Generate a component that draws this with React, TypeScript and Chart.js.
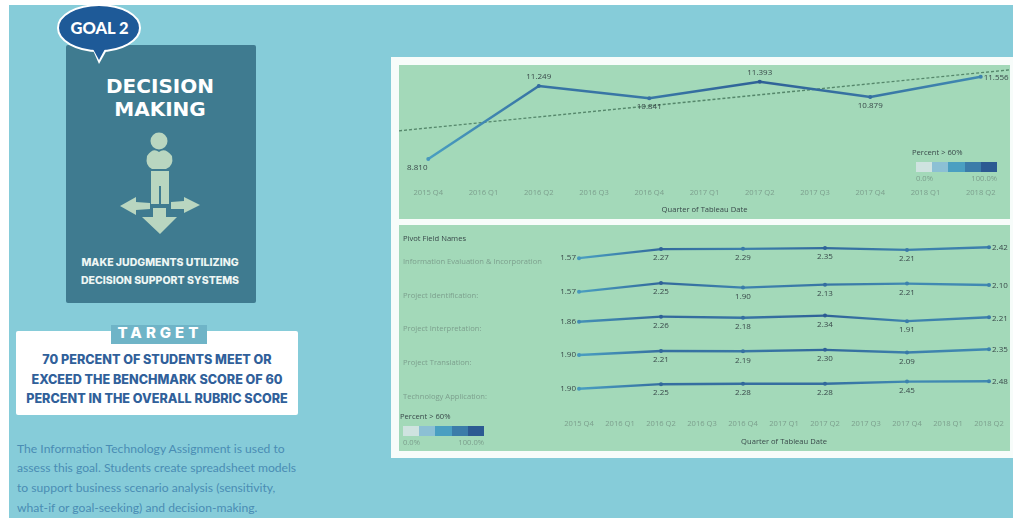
import React, { useEffect, useRef } from "react";
import { Chart, registerables } from "chart.js";

Chart.register(...registerables);

// Quarter axis shared by both charts
const quarters = [
  "2015 Q4", "2016 Q1", "2016 Q2", "2016 Q3", "2016 Q4", "2017 Q1",
  "2017 Q2", "2017 Q3", "2017 Q4", "2018 Q1", "2018 Q2",
];
const observedQuarters = ["2015 Q4", "2016 Q2", "2016 Q4", "2017 Q2", "2017 Q4", "2018 Q2"];

// Overall score
const overallScores = [8.81, 11.249, 10.841, 11.393, 10.879, 11.556];
const overallPercent = [0.5, 0.82, 0.78, 0.95, 0.8, 0.66];
const overallPlacement = ["belowLeft", "above", "below", "above", "below", "right"];
const overallTrendEnds = [9.75, 11.79];

// Rubric criteria
const criteria = [
  "Information Evaluation & Incorporation",
  "Project Identification:",
  "Project Interpretation:",
  "Project Translation:",
  "Technology Application:",
];
const infoEvaluation = [1.57, 2.27, 2.29, 2.35, 2.21, 2.42];
const projectIdentification = [1.57, 2.25, 1.9, 2.13, 2.21, 2.1];
const projectInterpretation = [1.86, 2.26, 2.18, 2.34, 1.91, 2.21];
const projectTranslation = [1.9, 2.21, 2.19, 2.3, 2.09, 2.35];
const technologyApplication = [1.9, 2.25, 2.28, 2.28, 2.45, 2.48];
const criteriaScores = [
  infoEvaluation, projectIdentification, projectInterpretation, projectTranslation, technologyApplication,
];
const infoPercent = [0.5, 0.88, 0.72, 0.88, 0.72, 0.72];
const identificationPercent = [0.5, 0.9, 0.7, 0.8, 0.66, 0.66];
const interpretationPercent = [0.6, 0.9, 0.8, 0.95, 0.7, 0.72];
const translationPercent = [0.5, 0.85, 0.78, 0.9, 0.72, 0.66];
const technologyPercent = [0.5, 0.85, 0.85, 0.85, 0.66, 0.66];
const criteriaPercent = [
  infoPercent, identificationPercent, interpretationPercent, translationPercent, technologyPercent,
];
const criteriaPlacement = ["left", "below", "below", "below", "below", "right"];

const legendRamp = ["#cfe3e0", "#8cc0d4", "#4a9fc1", "#3b7ca9", "#2c5a92"];

const hexToRgb = (hex: string) => [1, 3, 5].map((i) => parseInt(hex.slice(i, i + 2), 16));

// Continuous colour for a share of students above the benchmark
function rampColor(share: number) {
  const pos = Math.min(0.9999, Math.max(0, share)) * (legendRamp.length - 1);
  const i = Math.floor(pos);
  const a = hexToRgb(legendRamp[i]);
  const b = hexToRgb(legendRamp[i + 1]);
  const c = a.map((v, k) => Math.round(v + (b[k] - v) * (pos - i)));
  return `rgb(${c[0]},${c[1]},${c[2]})`;
}

const TICK_COLOR = "#7c9f8d";
const LABEL_COLOR = "#39494a";
const CHART_FONT = "'Open Sans', sans-serif";
const AXIS_FONT_SIZE = 7.6;

// Writes each point's value beside it, using the dataset's placement list
const valueLabels = {
  id: "valueLabels",
  afterDatasetsDraw(chart: any) {
    const { ctx } = chart;
    ctx.save();
    ctx.font = `8px ${CHART_FONT}`;
    ctx.fillStyle = LABEL_COLOR;
    ctx.textBaseline = "middle";
    chart.data.datasets.forEach((ds: any, di: number) => {
      if (!ds.placement) return;
      chart.getDatasetMeta(di).data.forEach((pt: any, i: number) => {
        const where = ds.placement[i];
        const text = ds.data[i].y.toFixed(ds.decimals);
        let x = pt.x;
        let y = pt.y;
        ctx.textAlign = "center";
        if (where === "above") y -= 9;
        if (where === "below") y += 9;
        if (where === "belowLeft") {
          x -= 11;
          y += 9;
        }
        if (where === "left") {
          x -= 3;
          ctx.textAlign = "right";
        }
        if (where === "right") {
          x += 3;
          y += 1;
          ctx.textAlign = "left";
        }
        ctx.fillText(text, x, y);
      });
    });
    ctx.restore();
  },
};

function scoreDataset(values: number[], shares: number[], extra: object) {
  return {
    data: values.map((y, i) => ({ x: quarters.indexOf(observedQuarters[i]), y })),
    borderWidth: 2.4,
    pointRadius: 2,
    pointBorderWidth: 0,
    pointBackgroundColor: shares.map((s) => rampColor(s + 0.05)),
    borderCapStyle: "round",
    tension: 0,
    clip: false,
    segment: {
      borderColor: (c: any) => {
        const g = c.chart.ctx.createLinearGradient(c.p0.x, c.p0.y, c.p1.x, c.p1.y);
        g.addColorStop(0, rampColor(shares[c.p0DataIndex]));
        g.addColorStop(1, rampColor(shares[c.p1DataIndex]));
        return g;
      },
    },
    ...extra,
  };
}

function quarterAxis(axisHeight: number, tickGap: number, edge: number) {
  return {
    type: "linear",
    min: -edge,
    max: quarters.length - 1 + edge,
    afterBuildTicks: (axis: any) => {
      axis.ticks = quarters.map((_, i) => ({ value: i }));
    },
    afterFit: (axis: any) => {
      axis.height = axisHeight;
      // Ticks sit half a step inside the ends, so no room is needed for their labels
      axis.paddingLeft = 0;
      axis.paddingRight = 0;
    },
    grid: { display: false, drawTicks: false },
    border: { display: false },
    ticks: {
      autoSkip: false,
      maxRotation: 0,
      padding: tickGap,
      color: TICK_COLOR,
      font: { family: CHART_FONT, size: AXIS_FONT_SIZE },
      callback: (v: number) => quarters[v],
    },
    title: {
      display: true,
      text: "Quarter of Tableau Date",
      color: LABEL_COLOR,
      font: { family: CHART_FONT, size: AXIS_FONT_SIZE },
      padding: { top: 0, bottom: 5 },
    },
  };
}

const sharedOptions = {
  responsive: false,
  animation: false,
  plugins: { legend: { display: false }, tooltip: { enabled: false } },
};

function OverallChart() {
  const ref = useRef<HTMLCanvasElement>(null);
  useEffect(() => {
    const edge = 0.53;
    const chart = new Chart(ref.current!, {
      type: "line",
      data: {
        datasets: [
          scoreDataset(overallScores, overallPercent, {
            placement: overallPlacement,
            decimals: 3,
            borderWidth: 2.6,
          }),
          {
            data: [
              { x: -edge, y: overallTrendEnds[0] },
              { x: quarters.length - 1 + edge, y: overallTrendEnds[1] },
            ],
            borderColor: "#55876b",
            borderWidth: 1.4,
            borderDash: [3, 2],
            pointRadius: 0,
          },
        ],
      },
      options: {
        ...sharedOptions,
        layout: { autoPadding: false, padding: 0 },
        scales: {
          x: quarterAxis(39, 8, edge),
          y: { display: false, min: 8.108, max: 11.95 },
        },
      },
      plugins: [valueLabels],
    } as any);
    return () => chart.destroy();
  }, []);
  return <canvas ref={ref} width={611} height={154} style={{ position: "absolute", left: 399, top: 65 }} />;
}

function CriteriaChart() {
  const ref = useRef<HTMLCanvasElement>(null);
  useEffect(() => {
    const yScales: Record<string, object> = {};
    // Stacked axes fill from the bottom up, so the last criterion is declared first
    [...criteria].reverse().forEach((name) => {
      yScales[`row${criteria.indexOf(name)}`] = {
        type: "linear",
        position: "left",
        stack: "criteria",
        stackWeight: 1,
        min: 0.25,
        max: 2.86,
        afterBuildTicks: (axis: any) => {
          axis.ticks = [{ value: 1.3 }];
        },
        afterFit: (axis: any) => {
          axis.width = 155.5;
        },
        grid: { display: false, drawTicks: false },
        border: { display: false },
        ticks: {
          crossAlign: "far",
          color: TICK_COLOR,
          font: { family: CHART_FONT, size: AXIS_FONT_SIZE },
          callback: () => name,
        },
      };
    });
    const chart = new Chart(ref.current!, {
      type: "line",
      data: {
        datasets: criteriaScores.map((values, i) =>
          scoreDataset(values, criteriaPercent[i], {
            placement: criteriaPlacement,
            decimals: 2,
            yAxisID: `row${i}`,
          })
        ),
      },
      options: {
        ...sharedOptions,
        layout: { autoPadding: false, padding: { left: 4, top: 16.5, right: 0.5, bottom: 0 } },
        scales: { x: quarterAxis(41, 9, 0.5), ...yScales },
      },
      plugins: [valueLabels],
    } as any);
    return () => chart.destroy();
  }, []);
  return <canvas ref={ref} width={611} height={226} style={{ position: "absolute", left: 399, top: 225 }} />;
}

const abs = (left: number, top: number, rest: React.CSSProperties = {}): React.CSSProperties => ({
  position: "absolute",
  left,
  top,
  ...rest,
});

function line(text: string, cx: number, cy: number, style: React.CSSProperties) {
  return (
    <div
      style={{
        position: "absolute",
        left: cx - 200,
        width: 400,
        top: cy - 15,
        height: 30,
        lineHeight: "30px",
        textAlign: "center",
        whiteSpace: "nowrap",
        ...style,
      }}
    >
      {text}
    </div>
  );
}

function PercentLegend({ x, y, titleX }: { x: number; y: number; titleX: number }) {
  const text: React.CSSProperties = {
    fontFamily: CHART_FONT,
    fontSize: AXIS_FONT_SIZE,
    lineHeight: "10px",
    whiteSpace: "nowrap",
  };
  return (
    <>
      <div style={abs(titleX, y - 15, { ...text, color: LABEL_COLOR })}>Percent &gt; 60%</div>
      <div style={abs(x, y, { display: "flex", width: 81, height: 10 })}>
        {legendRamp.map((c) => (
          <div key={c} style={{ flex: 1, background: c }} />
        ))}
      </div>
      <div style={abs(x, y + 11, { ...text, color: TICK_COLOR })}>0.0%</div>
      <div style={abs(x + 41, y + 11, { ...text, color: TICK_COLOR, width: 40, textAlign: "right" })}>100.0%</div>
    </>
  );
}

// Person standing at a fork, pointing three ways
function Emblem() {
  const fill = "#b9d6c0";
  return (
    <svg width={1013} height={518} style={abs(0, 0)}>
      <circle cx={159} cy={141} r={8.5} fill={fill} />
      <path d="M147 156 Q153 147 159 152 Q165 147 172 156 Q174 166 166 169 L152 169 Q145 166 147 156 Z" fill={fill} />
      <path d="M151 171 H169 V204 H161 V186 H159 V204 H151 Z" fill={fill} />
      <path d="M120 206 L136 197 V202 L150 203 V209 L136 210 V215 Z" fill={fill} />
      <path d="M200 205 L184 197 V201 L171 202 V209 L184 209 V213 Z" fill={fill} />
      <path d="M153 208 H166 V217 H177 L160 234 L142 217 H153 Z" fill={fill} />
      <path d="M92 48 L99 64 L108 48 Z" fill="#ffffff" />
      <ellipse cx={99} cy={28} rx={41} ry={23} fill="#1e5a98" stroke="#ffffff" strokeWidth={2} />
      <path d="M93 49 L99 60 L105 49 Z" fill="#1e5a98" />
    </svg>
  );
}

export default function App() {
  const heavy: React.CSSProperties = { fontFamily: "Inter, sans-serif", fontWeight: 800 };
  const body: React.CSSProperties = {
    fontFamily: "Lato, sans-serif",
    fontSize: 12.15,
    lineHeight: "20px",
    color: "#4a8db4",
    whiteSpace: "nowrap",
  };
  const title: React.CSSProperties = {
    fontFamily: "'DejaVu Sans', sans-serif",
    fontWeight: 700,
    fontSize: 20,
    color: "#ffffff",
  };
  const target: React.CSSProperties = { ...heavy, fontSize: 12.6, color: "#30609a" };
  return (
    <div style={abs(0, 0, { width: 1013, height: 518, overflow: "hidden", background: "#ffffff" })}>
      <div style={abs(9, 5, { width: 1004, height: 513, background: "#86ccd9" })} />
      <div style={abs(66, 45, { width: 190, height: 258, background: "#3f7b90", borderRadius: 2 })} />
      <Emblem />
      {line("GOAL 2", 99.5, 28, { fontFamily: "Lato, sans-serif", fontWeight: 900, fontSize: 16.5, color: "#ffffff" })}
      {line("DECISION", 160, 86, title)}
      {line("MAKING", 160, 109, title)}
      {line("MAKE JUDGMENTS UTILIZING", 160, 263, { ...heavy, fontSize: 10.5, color: "#eef6f4" })}
      {line("DECISION SUPPORT SYSTEMS", 160, 281, { ...heavy, fontSize: 10.5, color: "#eef6f4" })}

      <div style={abs(16, 331, { width: 282, height: 84, background: "#ffffff", borderRadius: 2 })} />
      <div style={abs(111, 325, { width: 96, height: 19, background: "#6fb4c7" })} />
      {line("TARGET", 160, 333, { ...heavy, fontSize: 15, letterSpacing: 4, color: "#ffffff" })}
      {line("70 PERCENT OF STUDENTS MEET OR", 157, 360, target)}
      {line("EXCEED THE BENCHMARK SCORE OF 60", 157, 380, target)}
      {line("PERCENT IN THE OVERALL RUBRIC SCORE", 157, 399, target)}

      <div style={abs(17, 439, body)}>The Information Technology Assignment is used to</div>
      <div style={abs(17, 458, body)}>assess this goal. Students create spreadsheet models</div>
      <div style={abs(17, 478, body)}>to support business scenario analysis (sensitivity,</div>
      <div style={abs(17, 498, body)}>what-if or goal-seeking) and decision-making.</div>

      <div style={abs(391, 57, { width: 622, height: 401, background: "#f7fcfa" })} />
      <div style={abs(399, 65, { width: 611, height: 154, background: "#a3d9b9" })} />
      <div style={abs(399, 225, { width: 611, height: 226, background: "#a3d9b9" })} />
      <OverallChart />
      <CriteriaChart />
      <div style={abs(403, 233, { fontFamily: CHART_FONT, fontSize: AXIS_FONT_SIZE, lineHeight: "10px", color: LABEL_COLOR })}>
        Pivot Field Names
      </div>
      <PercentLegend x={916} y={162} titleX={912} />
      <PercentLegend x={403} y={426} titleX={400} />
    </div>
  );
}
